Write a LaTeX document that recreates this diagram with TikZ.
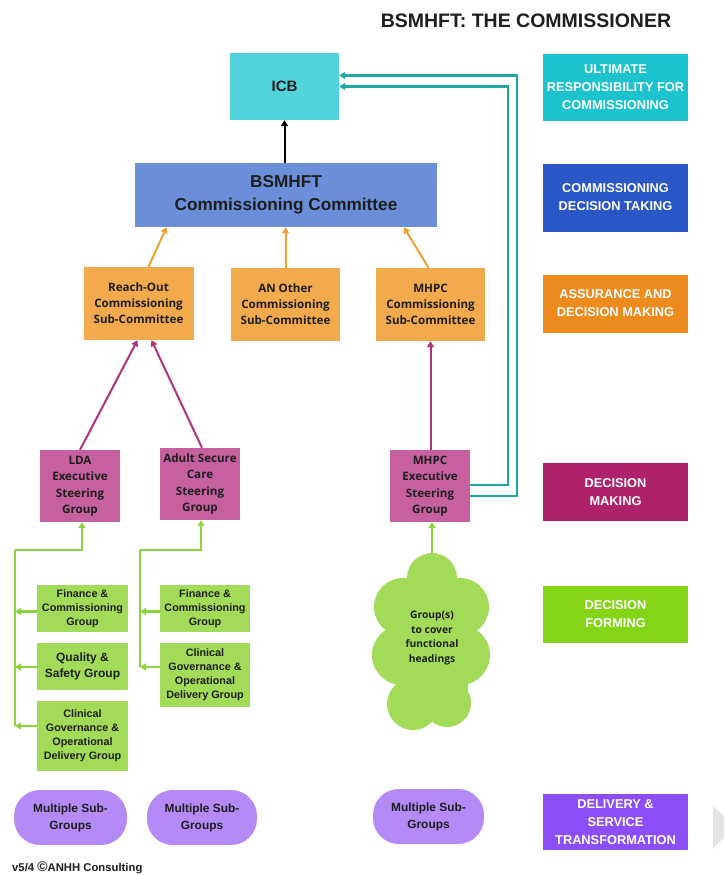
\documentclass[tikz,border=0pt]{standalone}
\usepackage{fontspec}
\setmainfont{Liberation Sans}
\newfontfamily\osans{Open Sans}
\usetikzlibrary{arrows.meta,calc}
\definecolor{cICB}{HTML}{52D3DC}
\definecolor{cBSM}{HTML}{6A8ED8}
\definecolor{cOR}{HTML}{F2AA4C}
\definecolor{cMG}{HTML}{C6609F}
\definecolor{cGR}{HTML}{A2DB57}
\definecolor{cPU}{HTML}{B48AF6}
\definecolor{lA}{HTML}{1CC3CE}
\definecolor{lB}{HTML}{2A56C6}
\definecolor{lC}{HTML}{EE8B1E}
\definecolor{lD}{HTML}{AE2269}
\definecolor{lE}{HTML}{84D418}
\definecolor{lF}{HTML}{8B4EF8}
\definecolor{aOR}{HTML}{F0A030}
\definecolor{aMG}{HTML}{B23080}
\definecolor{aGR}{HTML}{8CD43C}
\definecolor{aTL}{HTML}{1FA69E}
\definecolor{txt}{HTML}{1E1E1E}
\tikzset{
  box/.style={draw=none, inner sep=0pt, align=center, text=txt, font=\bfseries},
  orbox/.style={box, fill=cOR, minimum width=110pt, minimum height=73pt, font=\osans\bfseries\fontsize{11.6}{16}\selectfont},
  mgbox/.style={box, fill=cMG, minimum width=80pt, minimum height=72pt, font=\osans\bfseries\fontsize{11.6}{16.5}\selectfont},
  grbox/.style={box, fill=cGR, minimum width=91pt, font=\bfseries\fontsize{10.8}{14}\selectfont},
  pubox/.style={box, fill=cPU, rounded corners=26pt, minimum width=111pt, minimum height=55pt, font=\bfseries\fontsize{11.9}{17}\selectfont},
  legbox/.style={box, text=white, minimum width=145pt, font=\bfseries\fontsize{12.8}{18}\selectfont},
  tip/.style={-{Triangle[width=7pt,length=6pt]}},
  blkarr/.style={tip, line width=2pt, black},
  orarr/.style={tip, line width=2pt, aOR},
  mgarr/.style={tip, line width=2pt, aMG},
  grarr/.style={tip, line width=2.5pt, aGR},
  grline/.style={line width=2.5pt, aGR},
  tlarr/.style={tip, line width=2.5pt, aTL},
}
\begin{document}
\begin{tikzpicture}[x=1pt,y=-1pt]
\useasboundingbox (0,0) rectangle (724,875);
\fill[white] (0,0) rectangle (724,875);

% title
\node[font=\bfseries\fontsize{19.5}{22}\selectfont, text=txt] (title) at (526,21) {BSMHFT: THE COMMISSIONER};

% main hierarchy
\node[box, fill=cICB, minimum width=109pt, minimum height=67pt, font=\bfseries\fontsize{15}{18}\selectfont] (icb) at (284.5,86.5) {ICB};
\node[box, fill=cBSM, minimum width=302pt, minimum height=64pt, font=\bfseries\fontsize{17.2}{23}\selectfont] (bsm) at (286,195) {BSMHFT\\Commissioning Committee};

\node[orbox] (ro) at (138.5,303.5) {Reach-Out\\Commissioning\\Sub-Committee};
\node[orbox, minimum width=109pt] (ano) at (285.5,304.5) {AN Other\\Commissioning\\Sub-Committee};
\node[orbox, minimum width=109pt] (mpc) at (430.5,304.5) {MHPC\\Commissioning\\Sub-Committee};

\node[mgbox] (lda) at (80,486) {LDA\\Executive\\Steering\\Group};
\node[mgbox] (asc) at (200,484) {Adult Secure\\Care\\Steering\\Group};
\node[mgbox] (mex) at (430,486) {MHPC\\Executive\\Steering\\Group};

\node[grbox, minimum height=47pt] (f1) at (82.5,608.5) {Finance \&\\Commissioning\\Group};
\node[grbox, minimum height=47pt, font=\bfseries\fontsize{12}{16.5}\selectfont] (q1) at (82.5,666.5) {Quality \&\\Safety Group};
\node[grbox, minimum height=70pt] (c1) at (82.5,736) {Clinical\\Governance \&\\Operational\\Delivery Group};
\node[grbox, minimum width=90pt, minimum height=47pt] (f2) at (205,608.5) {Finance \&\\Commissioning\\Group};
\node[grbox, minimum width=90pt, minimum height=64pt] (c2) at (205,675) {Clinical\\Governance \&\\Operational\\Delivery Group};

% cloud
\fill[cGR] (432,578) circle (25);
\fill[cGR] (403,607) circle (29);
\fill[cGR] (460,607) circle (29);
\fill[cGR] (402,655) circle (30);
\fill[cGR] (460,655) circle (30);
\fill[cGR] (413,704) circle (26);
\fill[cGR] (447,703) circle (24);
\fill[cGR] (396,590) rectangle (468,710);
\coordinate (cltop) at (432,553);
\node[box, font=\osans\bfseries\fontsize{10.3}{14.6}\selectfont] (cl) at (432,638) {Group(s)\\to cover\\functional\\headings};

\node[pubox, minimum width=113pt] (ms1) at (70.5,817.5) {Multiple Sub-\\Groups};
\node[pubox, minimum width=110pt] (ms2) at (202,817.5) {Multiple Sub-\\Groups};
\node[pubox] (ms3) at (428.5,816.5) {Multiple Sub-\\Groups};

% legend column
\node[legbox, fill=lA, minimum height=66pt] (L1) at (615.5,87.5) {ULTIMATE\\RESPONSIBILITY FOR\\COMMISSIONING};
\node[legbox, fill=lB, minimum height=68pt] (L2) at (615.5,197.5) {COMMISSIONING\\DECISION TAKING};
\node[legbox, fill=lC, minimum height=58pt] (L3) at (615.5,303.5) {ASSURANCE AND\\DECISION MAKING};
\node[legbox, fill=lD, minimum height=58pt] (L4) at (615.5,492) {DECISION\\MAKING};
\node[legbox, fill=lE, minimum height=57pt] (L5) at (615.5,614.5) {DECISION\\FORMING};
\node[legbox, fill=lF, minimum height=56pt] (L6) at (615.5,822) {DELIVERY \&\\SERVICE\\TRANSFORMATION};

% footer
\node[anchor=west, font=\bfseries\fontsize{11.3}{13}\selectfont, text=txt, inner sep=0pt] (foot) at (12,868) {v5/4 {\fontsize{14}{14}\selectfont\raisebox{-0.5pt}{©}}ANHH Consulting};

% grey chevron at right edge
\fill[gray!20] (713,806) -- (724,816) -- (724,838) -- (713,848) -- cycle;

% connectors
\draw[blkarr] (icb.south |- bsm.north) -- (icb.south);
\draw[orarr] ($(ro.north)+(10,0)$) -- ($(bsm.south west)!0.105!(bsm.south east)$);
\draw[orarr] (ano.north) -- (ano.north |- bsm.south);
\draw[orarr] ($(mpc.north)+(-2,0)$) -- ($(bsm.south west)!0.89!(bsm.south east)$);

\draw[mgarr] (lda.north) -- ($(ro.south)+(-1,0)$);
\draw[mgarr] ($(asc.north)+(2,0)$) -- ($(ro.south)+(13,0)$);
\draw[mgarr] (mpc.south |- mex.north) -- (mpc.south);

\draw[tlarr] ($(mex.east)+(0,-1)$) -| ($(icb.east)+(169,0)$) -- (icb.east);
\draw[tlarr] ($(mex.east)+(0,10)$) -| ($(icb.east)+(178,-11)$) -- ($(icb.east)+(0,-11)$);

% left green tree
\coordinate (tL) at (15,550);
\draw[grline] (tL |- 0,726) -- (tL);
\draw[grarr] (tL) -| ($(lda.south)+(2,0)$);
\draw[grarr] ($(f1.west)+(0,3)$) -- ($(f1.west -| tL)+(0,3)$);
\draw[grarr] ($(q1.west)+(0,0.5)$) -- ($(q1.west -| tL)+(0,0.5)$);
\draw[grarr] ($(c1.west)+(0,-10)$) -- ($(c1.west -| tL)+(0,-10)$);

% right green tree
\coordinate (tR) at (140,550);
\draw[grline] (tR |- 0,667) -- (tR);
\draw[grarr] (tR) -| ($(asc.south)+(1,0)$);
\draw[grarr] ($(f2.west)+(0,3)$) -- ($(f2.west -| tR)+(0,3)$);
\draw[grarr] ($(c2.west)+(0,-8)$) -- ($(c2.west -| tR)+(0,-8)$);

% cloud to MHPC exec
\draw[grarr] (cltop) -- (cltop |- mex.south);
\end{tikzpicture}
\end{document}
